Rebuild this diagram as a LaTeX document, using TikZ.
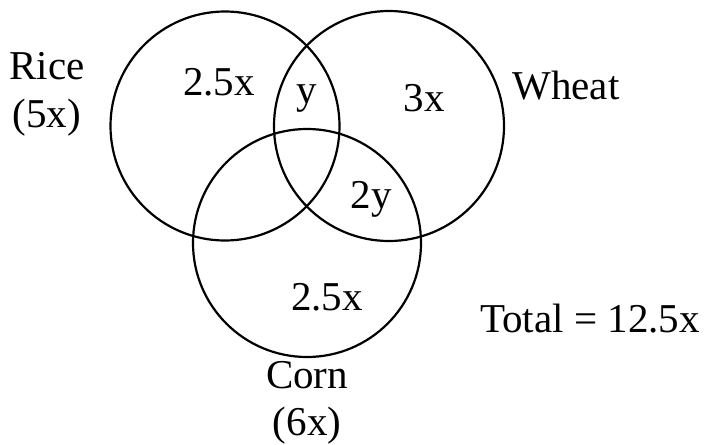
\documentclass[tikz,border=0pt]{standalone}
\usepackage{fontspec}
\setmainfont{Liberation Serif}
\tikzset{
  setline/.style={line width=1.1pt},
  lbl/.style={font=\fontsize{20.5}{24}\selectfont, inner sep=0pt, anchor=base}
}
\begin{document}
\begin{tikzpicture}[x=0.5pt,y=-0.5pt]
    \useasboundingbox (0,0) rectangle (704,444);
    % circles
    \draw[setline] (225,126) circle[radius=57.25pt];
    \draw[setline] (389,126) circle[radius=57.5pt];
    \draw[setline] (307,243) circle[radius=57pt];
    % set names
    \node[lbl] (rice) at (47,79) {Rice};
    \node[lbl] (ricetot) at (47,127) {(5x)};
    \node[lbl] (wheat) at (566,99) {Wheat};
    \node[lbl] (corn) at (307,388) {Corn};
    \node[lbl] (corntot) at (307,435) {(6x)};
    \node[lbl] (total) at (590,332) {Total = 12.5x};
    % regions
    \node[lbl] (riceonly) at (219,95) {2.5x};
    \node[lbl] (ricewheat) at (307,103) {y};
    \node[lbl] (wheatonly) at (424,111) {3x};
    \node[lbl] (wheatcorn) at (371,208) {2y};
    \node[lbl] (cornonly) at (327,310) {2.5x};
\end{tikzpicture}
\end{document}
